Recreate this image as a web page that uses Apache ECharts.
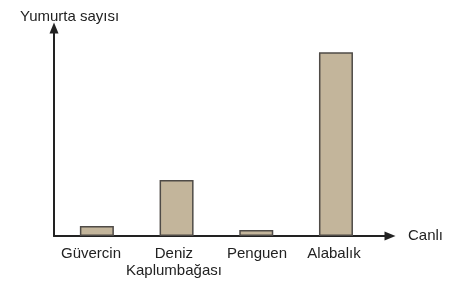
<!DOCTYPE html>
<html>
<head>
<meta charset="utf-8">
<style>html,body{margin:0;padding:0;background:#fff}#c{width:458px;height:283px}</style>
<script src="https://cdn.jsdelivr.net/npm/echarts@6/dist/echarts.min.js"></script>
</head>
<body>
<div id="c"></div>
<script>
var categories = ['Güvercin', 'Deniz\nKaplumbağası', 'Penguen', 'Alabalık'];
var eggCounts = [5.4, 30.5, 3.3, 100];
var yTitle = 'Yumurta sayısı';
var xTitle = 'Canlı';
// label anchor positions (category index units) as placed in the picture
var labelPositions = [-0.074, 0.967, 2.009, 2.975];

var chart = echarts.init(document.getElementById('c'), null, {renderer: 'canvas'});
var font = '"Liberation Sans", Arial, sans-serif';
chart.setOption({
  animation: false,
  title: {
    text: yTitle, left: 15, top: 4,
    textStyle: {fontFamily: font, fontSize: 15, fontWeight: 'normal', color: '#222'}
  },
  grid: {left: 54, right: 68, top: 28, bottom: 47, containLabel: false},
  xAxis: {
    type: 'value', min: -0.538, max: 3.678,
    splitLine: {show: false},
    axisLine: {show: true, onZero: false, symbol: ['none', 'triangle'], symbolSize: [9, 11],
      lineStyle: {color: '#222', width: 2}},
    axisTick: {show: false},
    axisLabel: {
      customValues: labelPositions,
      formatter: function (v) { return categories[Math.round(v)] || ''; },
      fontFamily: font, fontSize: 15, color: '#222', margin: 9, lineHeight: 17
    },
    name: xTitle, nameLocation: 'end', nameGap: 18,
    nameTextStyle: {fontFamily: font, fontSize: 15, color: '#222', verticalAlign: 'middle'}
  },
  yAxis: {
    type: 'value', min: 0, max: 113.2,
    splitLine: {show: false},
    axisLine: {show: true, onZero: false, symbol: ['none', 'triangle'], symbolSize: [9, 11],
      lineStyle: {color: '#222', width: 2}},
    axisTick: {show: false},
    axisLabel: {show: false}
  },
  series: [{
    type: 'bar',
    barWidth: 34,
    data: eggCounts.map(function (v, i) { return [i, v]; }),
    itemStyle: {color: '#c3b59b', borderColor: '#4f4b47', borderWidth: 1.5}
  }]
});
</script>
</body>
</html>
